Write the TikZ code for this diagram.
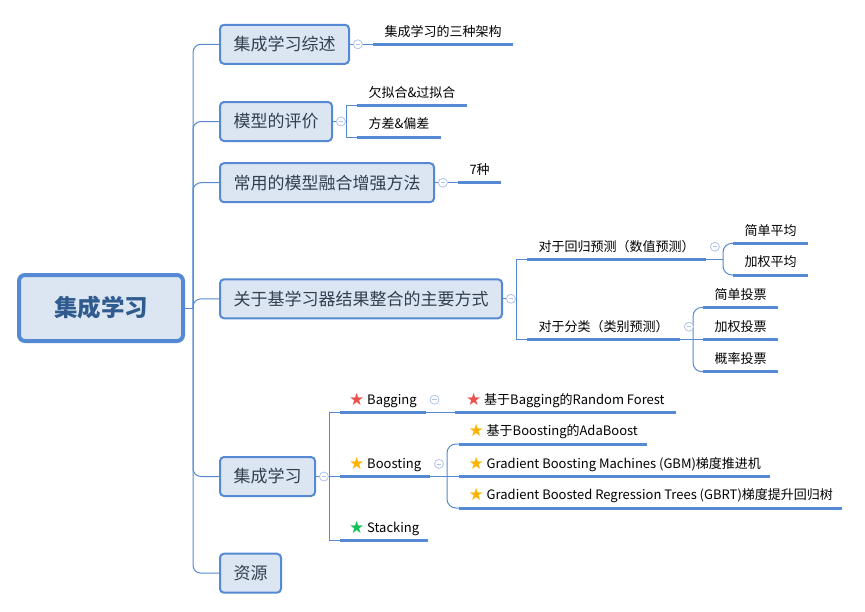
\documentclass[tikz,border=0pt]{standalone}
\usepackage{fontspec}
\setmainfont{Noto Sans CJK SC}
\newfontfamily\starfont{DejaVu Sans}
\usepackage{tikz}
\usetikzlibrary{positioning}
\definecolor{mapblue}{HTML}{5589D3}
\definecolor{boxfill}{HTML}{DCE6F2}
\definecolor{foldblue}{HTML}{AFC4EC}
\definecolor{roottext}{HTML}{2F5B8E}
\definecolor{topictext}{HTML}{333F50}
\definecolor{starred}{HTML}{E8524F}
\definecolor{staryellow}{HTML}{FFB300}
\definecolor{stargreen}{HTML}{14C25A}
\newcommand\mstar[1]{\raisebox{-0.8pt}{\textcolor{#1}{\fontsize{17}{13}\selectfont\starfont ★}}\hspace{3pt}}

\begin{document}
\begin{tikzpicture}[
   x=1pt,y=-1pt,
   root/.style={draw=mapblue,fill=boxfill,line width=4pt,rounded corners=6pt,minimum width=164pt,minimum height=66pt,text=roottext,font=\fontsize{23.5}{26}\selectfont\bfseries},
   topic/.style={draw=mapblue,fill=boxfill,line width=2pt,rounded corners=4pt,minimum height=39pt,inner xsep=13.5pt,anchor=west,text=topictext,font=\fontsize{17}{20}\selectfont},
   leaf/.style={anchor=south west,inner xsep=11.5pt,inner ysep=5.6pt,outer sep=0pt,text height=11.5pt,text depth=2.5pt,font=\fontsize{13}{15}\selectfont},
   fold/.style={circle,draw=foldblue,fill=white,line width=0.8pt,inner sep=0pt,minimum size=9pt,
     path picture={\draw[foldblue,line width=0.8pt] ([xshift=-2.4pt]path picture bounding box.center) -- ([xshift=2.4pt]path picture bounding box.center);}},
   link/.style={draw=mapblue,line width=1pt},
   uline/.style={draw=mapblue,line width=3pt},
   trunk/.style={link,rounded corners=8pt}]
\useasboundingbox (0,0) rectangle (865,611);
\node[root] (root) at (101,308) {集成学习};
\node[topic] (t1) at (219,44.3) {集成学习综述};
\node[topic] (t2) at (219,121.5) {模型的评价};
\node[topic] (t3) at (219,182.7) {常用的模型融合增强方法};
\node[topic] (t4) at (219,298.8) {关于基学习器结果整合的主要方式};
\node[topic] (t5) at (219,476.5) {集成学习};
\node[topic] (t6) at (219,573.2) {资源};
\node[leaf] (l1) at (373,44.3) {集成学习的三种架构};
\node[leaf] (l2a) at (357,105.3) {欠拟合\&过拟合};
\node[leaf] (l2b) at (357,137) {方差\&偏差};
\node[leaf] (l3) at (458,182.7) {7种};
\node[leaf] (l4a) at (527,259.3) {对于回归预测（数值预测）};
\node[leaf] (l4b) at (527,339.3) {对于分类（类别预测）};
\node[leaf] (l4a1) at (733,243.3) {简单平均};
\node[leaf] (l4a2) at (733,275) {加权平均};
\node[leaf] (l4b1) at (703,307.3) {简单投票};
\node[leaf] (l4b2) at (703,339.3) {加权投票};
\node[leaf] (l4b3) at (703,371.7) {概率投票};
\node[leaf,inner xsep=9pt] (l5a) at (340,412.3) {\mstar{starred}Bagging};
\node[leaf,inner xsep=9pt] (l5b) at (340,476.5) {\mstar{staryellow}Boosting};
\node[leaf,inner xsep=9pt] (l5c) at (340,540.3) {\mstar{stargreen}Stacking};
\node[leaf,inner xsep=11pt] (l5a1) at (455,412.3) {\mstar{starred}基于Bagging的Random Forest};
\node[leaf,inner xsep=9.5pt] (l5b1) at (459,444) {\mstar{staryellow}基于Boosting的AdaBoost};
\node[leaf,inner xsep=9.5pt] (l5b2) at (459,476.5) {\mstar{staryellow}Gradient Boosting Machines (GBM)梯度推进机};
\node[leaf,inner xsep=9.5pt] (l5b3) at (459,508) {\mstar{staryellow}Gradient Boosted Regression Trees (GBRT)梯度提升回归树};
\coordinate (hub) at ([xshift=8pt]root.east);
\coordinate (j2) at ([xshift=-10.3pt]l2a.south west |- t2.east);
\coordinate (j4) at ([xshift=-10.3pt]l4a.south west |- t4.east);
\coordinate (j5) at ([xshift=-10.7pt]l5a.south west |- t5.east);
\coordinate (j4a) at ([xshift=-10pt]l4a1.south west |- l4a.south east);
\coordinate (j4b) at ([xshift=-10pt]l4b1.south west |- l4b.south east);
\coordinate (j5b) at ([xshift=-12pt]l5b1.south west |- l5b.south east);
\draw[link] (root.east) -- (hub);
\foreach \t in {t1,t2,t3,t4,t5,t6}
  \draw[trunk] (hub) |- (\t.west);
\draw[link] (t1.east) -- (l1.south west);
\draw[link] (t3.east) -- (l3.south west);
\draw[link] (t2.east) -- (j2);
\draw[link] (l2a.south west) -| (j2) |- (l2b.south west);
\draw[link] (t4.east) -- (j4);
\draw[link] (l4a.south west) -| (j4) |- (l4b.south west);
\draw[link] (t5.east) -- (j5) -- (l5b.south west);
\draw[link] (l5a.south west) -| (j5) |- (l5c.south west);
\draw[link] (l4a.south east) -- (j4a);
\draw[link,rounded corners=9pt] (l4a1.south west) -| (j4a) |- (l4a2.south west);
\draw[link] (l4b.south east) -- (l4b2.south west);
\draw[link,rounded corners=9pt] (l4b1.south west) -| (j4b) |- (l4b3.south west);
\draw[link] (l5a.south east) -- (l5a1.south west);
\draw[link] (l5b.south east) -- (l5b2.south west);
\draw[link,rounded corners=9pt] (l5b1.south west) -| (j5b) |- (l5b3.south west);
\foreach \n in {l1,l2a,l2b,l3,l4a,l4b,l4a1,l4a2,l4b1,l4b2,l4b3,l5a,l5b,l5c,l5a1,l5b1,l5b2,l5b3}
  \draw[uline] (\n.south west) -- (\n.south east);
\node[fold,right=3pt of t1] (f1) {};
\node[fold,right=3pt of t2] (f2) {};
\node[fold,right=3pt of t3] (f3) {};
\node[fold,right=3pt of t4] (f4) {};
\node[fold,right=3pt of t5] (f5) {};
\node[fold,right=4pt of l4a] (f4a) {};
\node[fold,right=4pt of l4b] (f4b) {};
\node[fold,right=4pt of l5a] (f5a) {};
\node[fold,right=4pt of l5b] (f5b) {};
\end{tikzpicture}
\end{document}
